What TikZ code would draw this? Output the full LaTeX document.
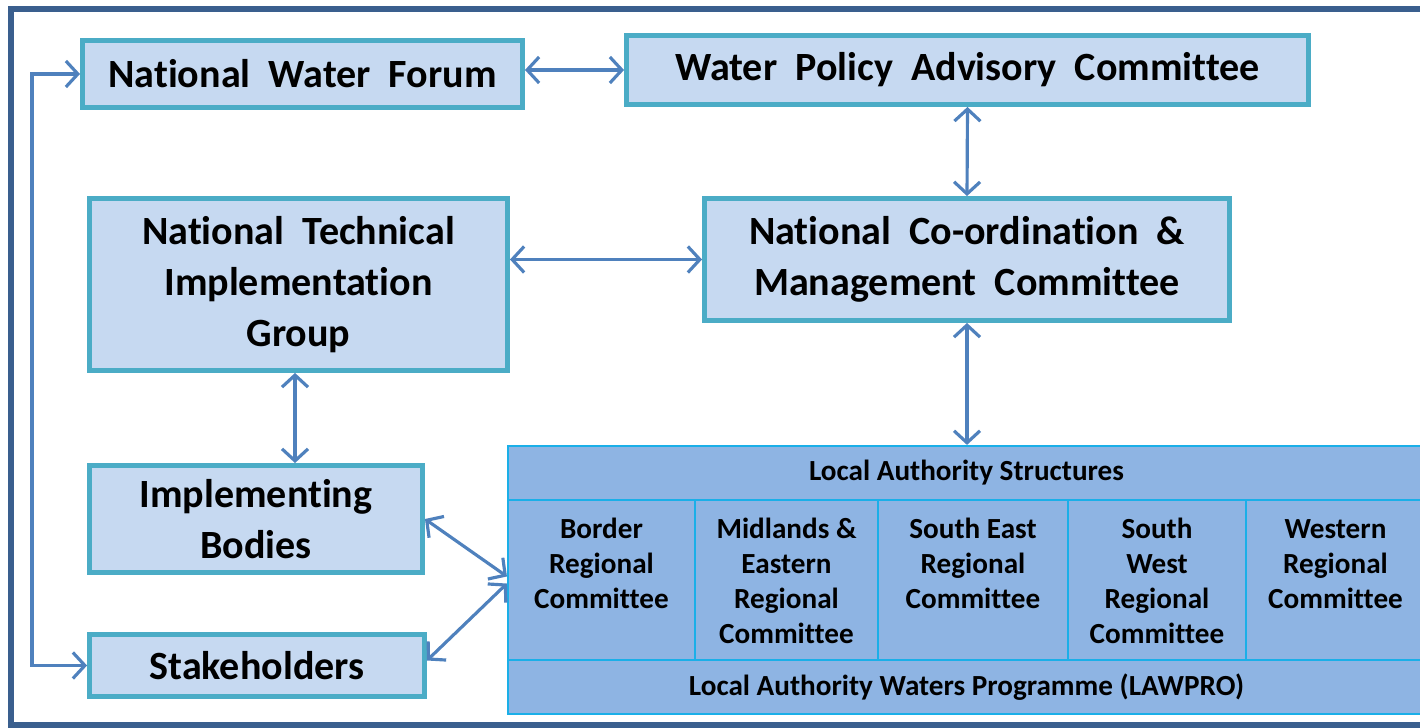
\documentclass[tikz,border=0pt]{standalone}
\usepackage{fontspec}
\setmainfont{Carlito}[Ligatures=NoCommon]
\usepackage{xcolor}
\usetikzlibrary{calc, shapes, arrows.meta}
\definecolor{boxline}{HTML}{4BACC6}
\definecolor{boxfill}{HTML}{C6D9F1}
\definecolor{cellline}{HTML}{1AAFE8}
\definecolor{cellfill}{HTML}{8EB4E3}
\definecolor{linkblue}{HTML}{4F81BD}
\definecolor{frameblue}{HTML}{3A5F8E}

\begin{document}
\begin{tikzpicture}[
	box/.style={draw=boxline, line width=1.4pt, fill=boxfill, align=center, inner sep=0pt, font=\boxfont},
	cell/.style={draw=cellline, line width=0.6pt, fill=cellfill, inner sep=0pt},
	celltext/.style={align=center, inner sep=0pt, font=\cellfont},
	link/.style={draw=linkblue, line width=0.9pt, {Straight Barb[length=1.2mm,width=2.6mm]}-{Straight Barb[length=1.2mm,width=2.6mm]}}
	]
	\newcommand{\boxfont}{\fontsize{11.4}{14.5}\selectfont\bfseries}
	\newcommand{\cellfont}{\fontsize{8.3}{10}\selectfont\bfseries}
	\useasboundingbox (0,0) rectangle (14.20,-7.28);
	%Outer frame
	\draw[frameblue, line width=1.9pt] (0.11,-0.09) rectangle (14.40,-7.25);
	%National level boxes
	\coordinate (cnwf) at (3.025,-0.74);
	\coordinate (cwpac) at (9.675,-0.70);
	\coordinate (cntig) at (2.985,-2.845);
	\coordinate (cncmc) at (9.67,-2.595);
	\node [box, minimum width=4.40cm, minimum height=0.67cm] (nwf) at (cnwf) {National\ \ Water\ \ Forum};
	\node [box, minimum width=6.82cm, minimum height=0.69cm] (wpac) at (cwpac) {Water\ \ Policy\ \ Advisory\ \ Committee};
	\node [box, minimum width=4.18cm, minimum height=1.72cm] (ntig) at (cntig) {National\ \ Technical\\Implementation\\Group};
	\node [box, minimum width=5.25cm, minimum height=1.22cm] (ncmc) at (cncmc) {National\ \ Co-ordination\ \ \&\\Management\ \ Committee};
	%Lower left boxes
	\coordinate (cib) at (2.56,-5.19);
	\coordinate (cstake) at (2.57,-6.655);
	\node [box, minimum width=3.33cm, minimum height=1.07cm] (ib) at (cib) {Implementing\\Bodies};
	\node [box, minimum width=3.35cm, minimum height=0.62cm] (stake) at (cstake) {Stakeholders};
	%Local authority table
	\node [cell, minimum width=9.17cm, minimum height=0.54cm] (lahead) at (9.665,-4.73) {};
	\node [cell, minimum width=9.17cm, minimum height=0.54cm] (lafoot) at (9.665,-6.87) {};
	\node [celltext] (laheadtxt) at (lahead) {Local Authority Structures};
	\node [celltext] (lafoottxt) at (lafoot) {Local Authority Waters Programme (LAWPRO)};
	\foreach \name/\x/\w/\txt in {
		border/6.015/1.87/{Border\\Regional\\Committee},
		midlands/7.865/1.83/{Midlands \&\\Eastern\\Regional\\Committee},
		southeast/9.73/1.90/{South East\\Regional\\Committee},
		southwest/11.57/1.78/{South\\West\\Regional\\Committee},
		western/13.355/1.79/{Western\\Regional\\Committee}} {
		\node [cell, minimum width=\w cm, minimum height=1.60cm] (\name) at (\x,-5.80) {};
		\node [celltext, anchor=north] (\name txt) at ([yshift=-0.14cm]\name.north) {\strut\txt};
	}
	%Connectors
	\draw[link] (nwf.east |- wpac.west) -- (wpac.west);
	\draw[link] (wpac.south) -- (ncmc.north);
	\draw[link] (ntig.east |- ncmc.west) -- (ncmc.west);
	\draw[link] ([xshift=-0.035cm]ntig.south) -- ([xshift=-0.035cm]ntig.south |- ib.north);
	\draw[link] (ncmc.south) -- (ncmc.south |- lahead.north);
	\draw[link] (ib.east) -- ([yshift=1pt]border.west);
	\draw[link] ([yshift=0.05cm]stake.east) -- ([yshift=-1pt]border.west);
	%Loop on the left
	\coordinate (loop) at (0.32,-0.72);
	\draw[link] (nwf.west) -- (nwf.west -| loop) |- (stake.west);
\end{tikzpicture}
\end{document}
